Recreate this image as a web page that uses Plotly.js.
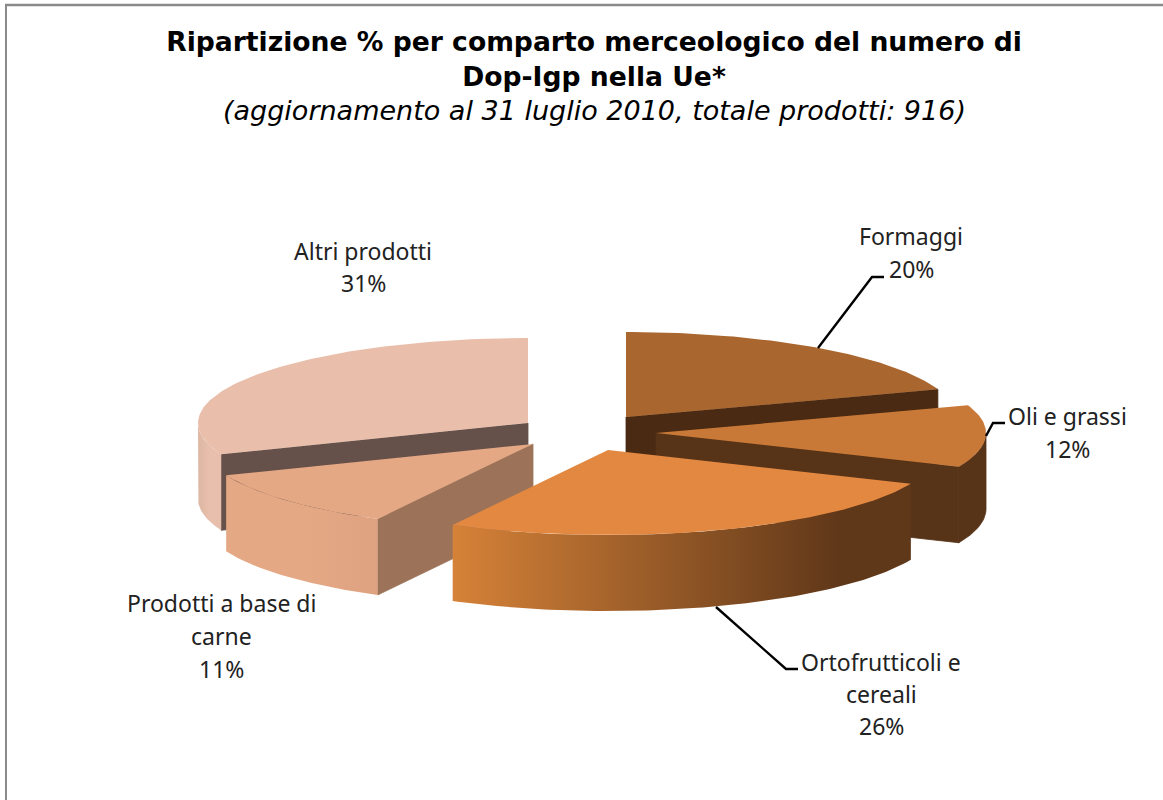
<!DOCTYPE html>
<html>
<head>
<meta charset="utf-8">
<script src="https://cdn.plot.ly/plotly-3.0.1.min.js"></script>
<style>html,body{margin:0;padding:0;background:#fff;}</style>
</head>
<body>
<div id="chart" style="width:1163px;height:800px;"></div>
<script>
// Data
const categories = ["Formaggi", "Oli e grassi", "Ortofrutticoli e cereali", "Prodotti a base di carne", "Altri prodotti"];
const shares = [19.7, 11.8, 26.3, 11.2, 31.0];
const labelLines = [["Formaggi"], ["Oli e grassi"], ["Ortofrutticoli e", "cereali"], ["Prodotti a base di", "carne"], ["Altri prodotti"]];

// Styling and placement of the tilted, exploded pie
const apexX = [626, 656, 608, 533, 528];
const apexY = [417, 433, 450, 444, 423];
const radiusX = 330, radiusY = 85, depth = 76;
const topColors = ["#A9662E", "#C97937", "#E38840", "#E5A885", "#E9BFAC"];
const edgeColors = ["#4A2A12", "#573318", "#573318", "#9C7359", "#65504A"];
const sideStart = ["#4A2A12", "#573318", "#D68238", "#E5A885", "#DDB7A3"];
const sideEnd = ["#4A2A12", "#573318", "#5F3719", "#DEA281", "#E8BFAC"];
const sideMid = [0.5, 0.5, 0.85, 1, 0.5];
const sideHold = [0, 0, 0, 0.55, 0];
const labelX = [911, 1067, 881, 221, 363];
const labelY = [236, 416, 662, 603, 251];
const labelStep = [33, 33, 32, 33, 32];
const leaders = [
  [[818, 348], [872, 277], [884, 277]],
  [[986, 436], [993, 423], [1005, 423]],
  [[716, 607], [786, 669], [798, 669]],
  null,
  null
];

const rad = d => d * Math.PI / 180;
const px = (i, a) => apexX[i] + radiusX * Math.sin(rad(a));
const py = (i, a) => apexY[i] - radiusY * Math.cos(rad(a));

function arc(i, a0, a1, drop) {
  const n = Math.max(2, Math.ceil(Math.abs(a1 - a0)));
  const xs = [], ys = [];
  for (let k = 0; k <= n; k++) {
    const a = a0 + (a1 - a0) * k / n;
    xs.push(px(i, a));
    ys.push(py(i, a) + drop);
  }
  return {x: xs, y: ys};
}

function poly(name, xs, ys, color, gradient, lineWidth) {
  const t = {
    type: "scatter", mode: "lines", name: name,
    x: xs.concat([xs[0]]), y: ys.concat([ys[0]]),
    fill: "toself", fillcolor: color,
    line: {width: lineWidth || 0, color: color},
    hoverinfo: "skip", showlegend: false
  };
  if (gradient) t.fillgradient = gradient;
  return t;
}

const total = shares.reduce((s, v) => s + v, 0);
const starts = [];
let cumulative = 0;
shares.forEach(v => { starts.push(cumulative / total * 360); cumulative += v; });
const ends = starts.map((s, i) => s + shares[i] / total * 360);

const drawOrder = [4, 0, 1, 3, 2];
const traces = [];
drawOrder.forEach(i => {
  const a0 = starts[i], a1 = ends[i], name = categories[i];
  // straight cut faces that look towards the viewer
  [[a0, a0 > 180 && a0 < 360], [a1, a1 > 0 && a1 < 180]].forEach(([a, show]) => {
    if (!show) return;
    const X = px(i, a), Y = py(i, a);
    traces.push(poly(name + " taglio",
      [apexX[i], X, X, apexX[i]],
      [apexY[i], Y, Y + depth, apexY[i] + depth], edgeColors[i], null, 0.8));
  });
  // curved outer wall
  const lo = Math.max(a0, 90), hi = Math.min(a1, 270);
  if (hi > lo) {
    const upper = arc(i, lo, hi, 0), lower = arc(i, hi, lo, depth);
    const flat = sideStart[i] === sideEnd[i];
    const stops = [[0, sideStart[i]]];
    if (sideHold[i] > 0) stops.push([sideHold[i], sideStart[i]]);
    stops.push([sideMid[i], sideEnd[i]]);
    if (sideMid[i] < 1) stops.push([1, sideEnd[i]]);
    traces.push(poly(name + " lato",
      upper.x.concat(lower.x), upper.y.concat(lower.y), sideStart[i],
      flat ? null : {type: "horizontal", colorscale: stops}, flat ? 0.8 : 0));
  }
  // top surface
  const surface = arc(i, a0, a1, 0);
  traces.push(poly(name,
    [apexX[i]].concat(surface.x), [apexY[i]].concat(surface.y), topColors[i]));
});

// leader lines
leaders.forEach((pts, i) => {
  if (!pts) return;
  traces.push({
    type: "scatter", mode: "lines", name: categories[i] + " linea",
    x: pts.map(p => p[0]), y: pts.map(p => p[1]),
    line: {color: "#000000", width: 2.4}, hoverinfo: "skip", showlegend: false
  });
});

// data labels, one annotation per text line
const annotations = [];
shares.forEach((v, i) => {
  labelLines[i].concat([Math.round(v) + "%"]).forEach((txt, k) => {
    annotations.push({
      xref: "x", yref: "y", x: labelX[i], y: labelY[i] + k * labelStep[i],
      text: txt, showarrow: false, xanchor: "center", yanchor: "middle",
      font: {family: "'Noto Sans', sans-serif", size: 23, color: "#222222"}
    });
  });
});
annotations.push({
  xref: "x", yref: "y", x: 594, y: 110, showarrow: false,
  xanchor: "center", yanchor: "middle",
  text: "<i>(aggiornamento al 31 luglio 2010, totale prodotti: 916)</i>",
  font: {family: "'DejaVu Sans', sans-serif", size: 27, color: "#000000"}
});

const layout = {
  width: 1163, height: 800,
  margin: {l: 0, r: 0, t: 0, b: 0},
  paper_bgcolor: "#ffffff", plot_bgcolor: "#ffffff",
  showlegend: false,
  title: {
    text: "<b>Ripartizione % per comparto merceologico del numero di<br>Dop-Igp nella Ue*</b>",
    font: {family: "'DejaVu Sans', sans-serif", size: 26.6, color: "#000000"},
    x: 594 / 1163, xanchor: "center", xref: "paper",
    y: 1 - 51 / 800, yanchor: "top", yref: "paper"
  },
  xaxis: {range: [0, 1163], visible: false, fixedrange: true},
  yaxis: {range: [800, 0], visible: false, fixedrange: true},
  annotations: annotations,
  shapes: [
    {type: "line", xref: "x", yref: "y", x0: 5, x1: 1163, y0: 5, y1: 5, line: {color: "#8A8A8A", width: 2.5}},
    {type: "line", xref: "x", yref: "y", x0: 6, x1: 6, y0: 5, y1: 800, line: {color: "#8A8A8A", width: 2}}
  ]
};

Plotly.newPlot("chart", traces, layout, {displayModeBar: false, staticPlot: true});
</script>
</body>
</html>
